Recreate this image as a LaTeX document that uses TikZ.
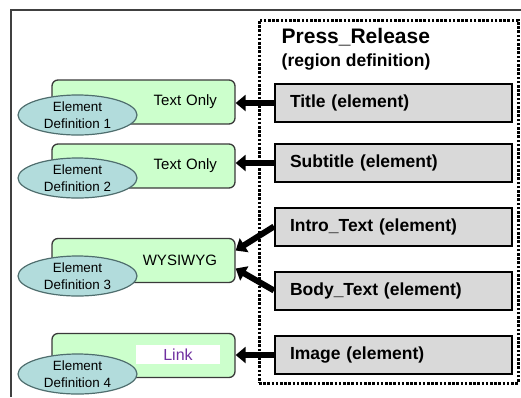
\documentclass[tikz,border=0pt]{standalone}
\usepackage{fontspec}
\setmainfont{Liberation Sans}
\usepackage{tikz}
\usetikzlibrary{calc}
\usetikzlibrary{positioning}
\usetikzlibrary{shapes.geometric}
\usetikzlibrary{arrows.meta}
\definecolor{boxgreen}{HTML}{CCFFCC}
\definecolor{boxedge}{HTML}{3A3A3A}
\definecolor{ovalfill}{HTML}{B2DCDC}
\definecolor{ovaledge}{HTML}{4F6E6E}
\definecolor{elemgray}{HTML}{D9D9D9}
\definecolor{linkpurple}{HTML}{7030A0}
\definecolor{framegray}{HTML}{404040}
\tikzstyle{elemnode} = [draw=black, line width=2pt, fill=elemgray, minimum height=38pt, text width=207pt, inner xsep=15pt, align=left, font=\fontsize{17.5}{20}\selectfont\bfseries]
\tikzstyle{typenode} = [draw=boxedge, line width=1.3pt, fill=boxgreen, rounded corners=6pt, minimum height=44pt, text width=147pt, inner xsep=18pt, align=right, font=\fontsize{15}{18}\selectfont]
\tikzstyle{defnode} = [ellipse, draw=ovaledge, line width=1.2pt, fill=ovalfill, minimum width=119pt, minimum height=40pt, inner xsep=0pt, inner ysep=-2pt, align=center, font=\fontsize{13.4}{17}\selectfont]
\tikzstyle{linknode} = [fill=white, minimum width=84pt, minimum height=19pt, inner sep=0pt, text=linkpurple, font=\fontsize{16}{18}\selectfont]
\tikzstyle{regionnode} = [draw, line width=3pt, dash pattern=on 2.6pt off 1.6pt, minimum width=259pt, minimum height=363pt]
\tikzstyle{regiontext} = [anchor=west, inner sep=0pt, font=\bfseries]
\tikzstyle{bigarrow} = [line width=6pt, -{Triangle[length=10pt,width=16pt]}]

\begin{document}
\begin{tikzpicture}[x=1pt, y=-1pt]
\useasboundingbox (0,0) rectangle (521,397);
\draw[framegray, line width=1.2pt] (11,397) -- (11,10) -- (521,10);
% region
\node[regionnode] (region) at (388.5,201.5) {};
\node[regiontext, font=\fontsize{21}{24}\selectfont\bfseries] (regionname) at ($(region.north west)+(24,19)$) {Press\_Release};
\node[regiontext, font=\fontsize{17.5}{20}\selectfont\bfseries] (regionkind) at ($(regionname.west)+(0,25)$) {(region definition)};
% elements
\node[elemnode] (title) at (393.5,103) {Title (element)};
\node[elemnode] (subtitle) at ($(title)+(0,60)$) {Subtitle (element)};
\node[elemnode] (intro) at ($(subtitle)+(0,63.5)$) {Intro\_Text (element)};
\node[elemnode] (body) at ($(intro)+(0,64)$) {Body\_Text (element)};
\node[elemnode] (image) at ($(body)+(0,64.5)$) {Image (element)};
% element definitions
\coordinate (midtext) at ($(intro)!0.5!(body)$);
\node[typenode] (textonly1) at ($(title)+(-250,-1)$) {Text Only};
\node[typenode] (textonly2) at ($(subtitle)+(-250,3)$) {Text Only};
\node[typenode] (wysiwyg) at ($(midtext)+(-250,2)$) {WYSIWYG};
\node[typenode] (linkbox) at ($(image)+(-250,0.5)$) {};
\node[linknode] (link) at ($(linkbox)+(34.5,-1)$) {Link};
\node[defnode] (def1) at ($(textonly1)+(-66,13)$) {Element\\Definition 1};
\node[defnode] (def2) at ($(textonly2)+(-66,12)$) {Element\\Definition 2};
\node[defnode] (def3) at ($(wysiwyg)+(-66,15.5)$) {Element\\Definition 3};
\node[defnode] (def4) at ($(linkbox)+(-66,18.5)$) {Element\\Definition 4};
% arrows
\draw[bigarrow] (title.west) -- (title.west -| textonly1.east);
\draw[bigarrow] (subtitle.west) -- (subtitle.west -| textonly2.east);
\draw[bigarrow] (intro.west) -- ([yshift=10pt]wysiwyg.east);
\draw[bigarrow] (body.west) -- ([yshift=-8pt]wysiwyg.east);
\draw[bigarrow] (image.west) -- (image.west -| linkbox.east);
\end{tikzpicture}
\end{document}
